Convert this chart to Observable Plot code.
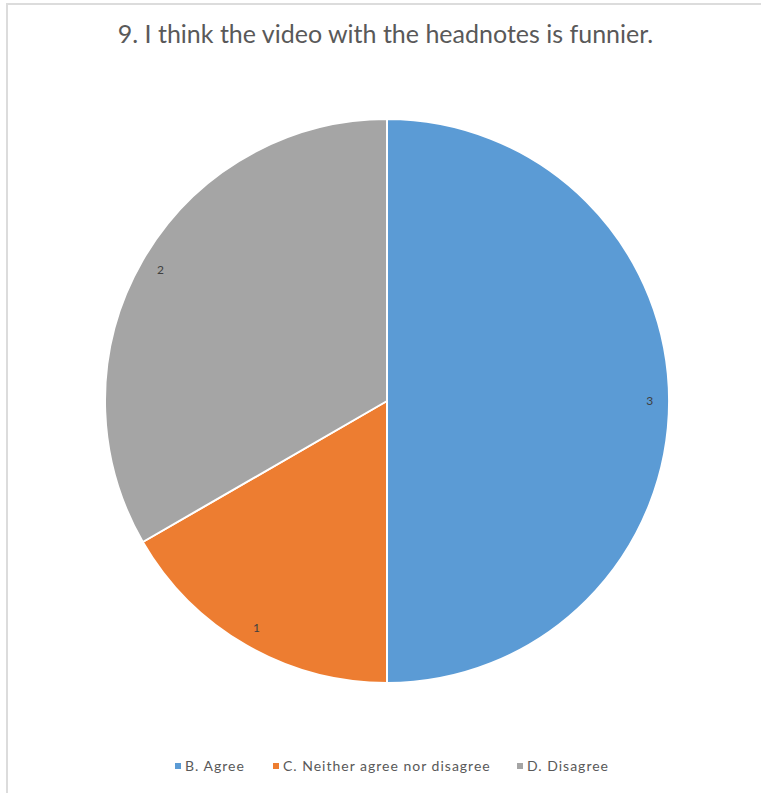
<!DOCTYPE html>
<html>
<head>
<meta charset="utf-8">
<script src="https://cdn.jsdelivr.net/npm/d3@7"></script>
<script src="https://cdn.jsdelivr.net/npm/@observablehq/plot@0.6"></script>
<style>
  html, body { margin: 0; padding: 0; background: #fff; }
  body { width: 761px; height: 793px; position: relative; overflow: hidden; font-family: Lato, "Open Sans", sans-serif; }
  #frame { position: absolute; left: 6px; top: 3px; width: 760px; height: 800px; border-top: 2px solid #dcdcdc; border-left: 2px solid #dcdcdc; box-sizing: border-box; }
  #title { position: absolute; left: 0; width: 771px; top: 18px; text-align: center; font-size: 25px; line-height: 30px; color: #595959; }
  #chart { position: absolute; left: 0; top: 0; }
  #legend { position: absolute; top: 757px; left: 0; width: 761px; height: 20px; font-size: 14px; color: #595959; }
  .item { position: absolute; top: 0; white-space: nowrap; letter-spacing: 1px; }
  .sw { display: inline-block; width: 6px; height: 6px; margin-right: 4px; vertical-align: 2px; }
</style>
</head>
<body>
<div id="frame"></div>
<div id="title">9. I think the video with the headnotes is funnier.</div>
<div id="chart"></div>
<div id="legend"></div>
<script>
const categories = ["B. Agree", "C. Neither agree nor disagree", "D. Disagree"];
const values = [3, 1, 2];
const colors = ["#5B9BD5", "#ED7D31", "#A5A5A5"];
const legendX = [175, 273, 517];

const pie = d3.pie().sort(null).value(d => d.value)(categories.map((c, i) => ({category: c, value: values[i]})));
const data = pie.map(p => ({category: p.data.category, value: p.data.value, start: p.startAngle, end: p.endAngle, mid: (p.startAngle + p.endAngle) / 2}));

function arcs(index, scales, values, dimensions, context) {
  const cx = scales.x(0), cy = scales.y(0);
  const r = scales.x(1) - scales.x(0);
  const arc = d3.arc().innerRadius(0).outerRadius(r);
  const g = d3.create("svg:g").attr("transform", `translate(${cx},${cy})`);
  g.selectAll("path").data(data).join("path")
    .attr("d", d => arc({startAngle: d.start, endAngle: d.end}))
    .attr("fill", d => scales.color(d.category))
    .attr("stroke", "#fff")
    .attr("stroke-width", 2)
    .attr("stroke-linejoin", "round");
  return g.node();
}

const labelR = 0.93;
const chart = Plot.plot({
  width: 761,
  height: 793,
  margin: 0,
  x: {domain: [-1, 1], range: [105, 669], axis: null},
  y: {domain: [-1, 1], range: [683, 119], axis: null},
  color: {domain: categories, range: colors},
  style: {background: "transparent", overflow: "visible"},
  marks: [
    arcs,
    Plot.text(data, {
      x: d => labelR * Math.sin(d.mid),
      y: d => labelR * Math.cos(d.mid),
      text: d => String(d.value),
      fill: "#404040",
      fontSize: 12,
      fontFamily: "Lato, sans-serif"
    })
  ]
});
document.getElementById("chart").appendChild(chart);

const legend = document.getElementById("legend");
categories.forEach((c, i) => {
  const item = document.createElement("div");
  item.className = "item";
  item.style.left = legendX[i] + "px";
  const sw = document.createElement("span");
  sw.className = "sw";
  sw.style.background = colors[i];
  item.appendChild(sw);
  item.appendChild(document.createTextNode(c));
  legend.appendChild(item);
});
</script>
</body>
</html>
